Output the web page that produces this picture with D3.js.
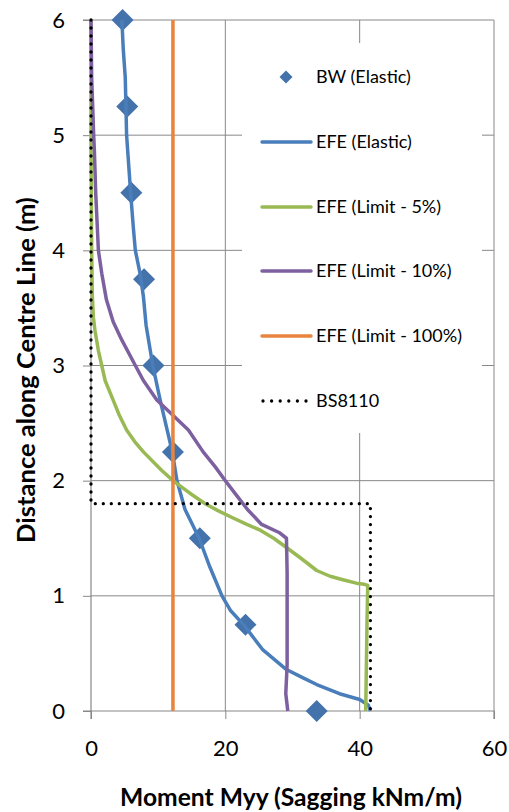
<!DOCTYPE html>
<html><head><meta charset="utf-8">
<script src="https://cdn.jsdelivr.net/npm/d3@7"></script>
<style>
html,body{margin:0;padding:0;background:#fff;}
svg{display:block;font-family:Lato,"Open Sans",sans-serif;}
</style></head>
<body>
<svg id="chart" width="509" height="812"></svg>
<script>
// ---- data ----
const xTicks = [0, 20, 40, 60];
const yTicks = [0, 1, 2, 3, 4, 5, 6];
const seriesNames = ["BW (Elastic)", "EFE (Elastic)", "EFE (Limit - 5%)", "EFE (Limit - 10%)", "EFE (Limit - 100%)", "BS8110"];
const seriesColors = ["#4472aa", "#4a7ebb", "#98b954", "#7d60a0", "#e8843e", "#000000"];

// BW (Elastic) markers: [moment, distance]
const bwElastic = [[4.7,6],[5.4,5.25],[6.0,4.5],[7.9,3.75],[9.3,3],[12.2,2.25],[16.2,1.5],[23,0.75],[33.6,0]];
// EFE (Elastic)
const efeElastic = [[4.6,6],[4.8,5.75],[5.1,5.5],[5.3,5],[5.6,4.75],[5.9,4.5],[6.3,4.2],[6.6,4],[7.3,3.8],[7.8,3.6],[8.2,3.35],[9.2,3],[10.3,2.7],[11.3,2.45],[12.1,2.25],[12.8,2],[14.0,1.75],[16.1,1.5],[17.7,1.25],[19.5,1],[20.8,0.87],[22.7,0.75],[25.6,0.53],[29.1,0.36],[31.5,0.29],[33.6,0.23],[37,0.15],[40.0,0.1],[41.3,0.05],[41.6,0]];
// EFE (Limit - 5%)
const efeLimit5 = [[0,6],[0,4.85],[0.05,4.5],[0.1,4],[0.2,3.6],[0.35,3.42],[0.6,3.3],[1.1,3.13],[1.6,3.0],[2.1,2.87],[3.3,2.7],[4.2,2.57],[5.3,2.44],[6.5,2.34],[7.8,2.25],[10.5,2.09],[12.2,2],[13.6,1.94],[15.0,1.88],[17.0,1.8],[18.9,1.74],[21.0,1.68],[23.2,1.62],[25.2,1.57],[27.2,1.5],[29.1,1.42],[31.4,1.32],[33.6,1.22],[35.6,1.17],[37.5,1.14],[39.5,1.11],[40.7,1.1],[41.2,1.09],[41.1,0.8],[41.0,0.4],[40.9,0]];
// EFE (Limit - 10%)
const efeLimit10 = [[0,6],[0.1,5.5],[0.4,5],[0.5,4.87],[0.7,4.5],[0.9,4.25],[1.1,4],[1.6,3.8],[2.3,3.57],[3.3,3.38],[4.6,3.22],[6.6,3],[7.8,2.87],[9.8,2.7],[11.8,2.59],[14.5,2.44],[16.7,2.25],[18.5,2.12],[20.0,2],[21.7,1.87],[23.3,1.75],[25.4,1.62],[28.0,1.55],[29.1,1.5],[29.2,1.2],[29.2,0.8],[29.2,0.4],[29.0,0.15],[29.3,0]];
// EFE (Limit - 100%)
const efeLimit100 = [[12.2,0],[12.2,6]];
// BS8110
const bs8110 = [[0,6],[0,1.8],[41.6,1.8],[41.6,0]];

// ---- layout ----
const svg = d3.select("#chart");
const x = d3.scaleLinear().domain([0, 60]).range([91, 494]);
const y = d3.scaleLinear().domain([0, 6]).range([711, 20]);
const gridColor = "#888888";

function fitText(sel, target, base) {
  sel.style("font-size", base + "px");
  const w = sel.node().getComputedTextLength();
  sel.style("font-size", (base * target / w).toFixed(2) + "px");
}

// gridlines
svg.append("g").selectAll("line").data(xTicks.filter(d => d > 0)).join("line")
  .attr("x1", d => x(d)).attr("x2", d => x(d)).attr("y1", y(0)).attr("y2", y(6))
  .attr("stroke", gridColor).attr("stroke-width", 1);
svg.append("g").selectAll("line").data(yTicks.filter(d => d > 0)).join("line")
  .attr("x1", x(0)).attr("x2", x(60)).attr("y1", d => y(d)).attr("y2", d => y(d))
  .attr("stroke", gridColor).attr("stroke-width", 1);

// legend background (hides gridlines)
const legX = 242, legY = 43, legW = 240, legH = 390;
svg.append("rect").attr("x", legX).attr("y", legY).attr("width", legW).attr("height", legH).attr("fill", "#fff");

// axes
const fmt = d3.format("d");
const xAxis = d3.axisBottom(x).tickValues(xTicks).tickFormat(fmt).tickSize(8).tickPadding(26);
const yAxis = d3.axisLeft(y).tickValues(yTicks).tickFormat(fmt).tickSize(8).tickPadding(18);
const gx = svg.append("g").attr("transform", `translate(0,${y(0)})`).call(xAxis);
const gy = svg.append("g").attr("transform", `translate(${x(0)},0)`).call(yAxis);
[gx, gy].forEach(g => {
  g.select(".domain").attr("stroke", gridColor).attr("stroke-width", 1.2);
  g.selectAll(".tick line").attr("stroke", gridColor).attr("stroke-width", 1);
  g.selectAll(".tick text").attr("fill", "#000").style("font-size", "22px").style("font-family", "Lato, sans-serif");
});
gy.select(".domain").attr("d", `M-8,${y(6)}H0V${y(0)}H-8`);
gx.select(".domain").attr("d", `M${x(0)},8V0H${x(60)}V8`);
gx.selectAll(".tick text").attr("dy", "0.5em");

const line = d3.line().x(d => x(d[0])).y(d => y(d[1])).curve(d3.curveLinear);

// BW diamonds
const dsz = 11;
svg.append("g").selectAll("path").data(bwElastic).join("path")
  .attr("d", d => `M${x(d[0])},${y(d[1]) - dsz}L${x(d[0]) + dsz},${y(d[1])}L${x(d[0])},${y(d[1]) + dsz}L${x(d[0]) - dsz},${y(d[1])}Z`)
  .attr("fill", seriesColors[0]);

const lineSeries = [[efeElastic, 1], [efeLimit5, 2], [efeLimit10, 3], [efeLimit100, 4]];
lineSeries.forEach(([data, i]) => {
  svg.append("path").datum(data).attr("d", line).attr("fill", "none")
    .attr("stroke", seriesColors[i]).attr("stroke-width", 3.5).attr("stroke-linejoin", "round");
});
svg.append("path").datum(bs8110).attr("d", line).attr("fill", "none")
  .attr("stroke", seriesColors[5]).attr("stroke-width", 3.3)
  .attr("stroke-dasharray", "0,8").attr("stroke-linecap", "round");

// legend
const legRows = [77, 142, 207, 271, 336, 401];
const lg = svg.append("g");
seriesNames.forEach((name, i) => {
  const cy = legRows[i];
  if (i === 0) {
    const s = 6.5;
    lg.append("path").attr("d", `M286,${cy - s}L${286 + s},${cy}L286,${cy + s}L${286 - s},${cy}Z`).attr("fill", seriesColors[0]);
  } else if (i === 5) {
    lg.append("line").attr("x1", 263).attr("x2", 311).attr("y1", cy).attr("y2", cy)
      .attr("stroke", "#000").attr("stroke-width", 3.3).attr("stroke-dasharray", "0,8.6").attr("stroke-linecap", "round");
  } else {
    lg.append("line").attr("x1", 262).attr("x2", 311).attr("y1", cy).attr("y2", cy)
      .attr("stroke", seriesColors[i]).attr("stroke-width", 3.5).attr("stroke-linecap", "round");
  }
  lg.append("text").attr("x", 316).attr("y", cy).attr("dy", "0.36em")
    .style("font-size", "18px").attr("fill", "#000").text(name);
});

// axis titles
const xt = svg.append("text").attr("x", 291).attr("y", 797).attr("dy", "0.36em").attr("text-anchor", "middle")
  .style("font-weight", "bold").text("Moment Myy (Sagging kNm/m)");
fitText(xt, 342, 20);
const yt = svg.append("text").attr("transform", `translate(26,370) rotate(-90)`).attr("dy", "0.36em").attr("text-anchor", "middle")
  .style("font-weight", "bold").text("Distance along Centre Line (m)");
fitText(yt, 346, 20);
</script>
</body></html>
